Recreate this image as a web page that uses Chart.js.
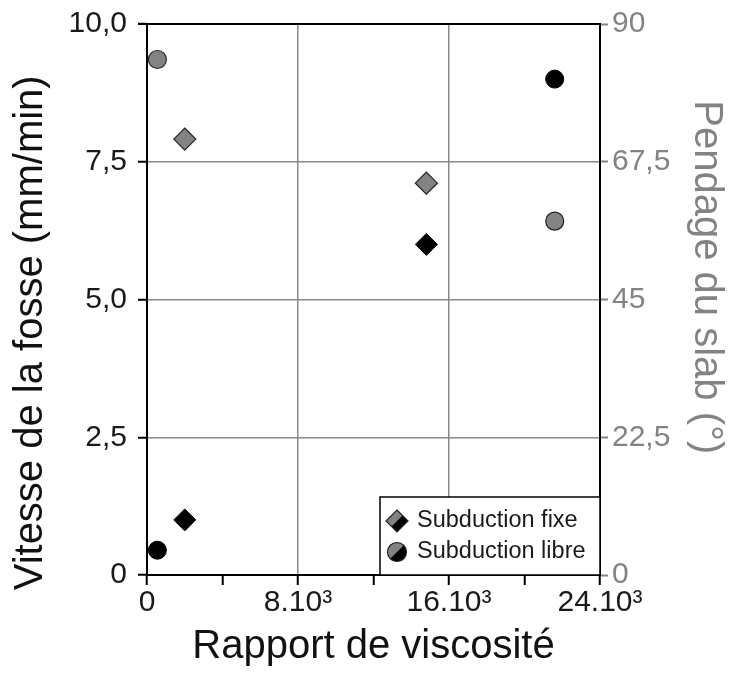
<!DOCTYPE html>
<html>
<head>
<meta charset="utf-8">
<script src="https://cdn.jsdelivr.net/npm/chart.js@4/dist/chart.umd.min.js"></script>
<style>
  html, body { margin: 0; padding: 0; background: #fff; }
  #wrap { width: 734px; height: 686px; }
</style>
</head>
<body>
<div id="wrap"><canvas id="myChart" width="734" height="686"></canvas></div>
<script>
// data
const viscositeFixe = [2000, 14800];
const viscositeLibre = [550, 21600];
const vitesseFixe = [1.0, 6.0];     // mm/min, left axis
const vitesseLibre = [0.45, 9.0];
const pendageFixe = [71.2, 64.0];   // degrees, right axis
const pendageLibre = [84.2, 57.8];

const xTicks = [0, 8000, 16000, 24000];
const xTickLabels = ['0', '8.10³', '16.10³', '24.10³'];
const leftTickLabels = { 0: '0', 2.5: '2,5', 5: '5,0', 7.5: '7,5', 10: '10,0' };
const rightTickLabels = { 0: '0', 22.5: '22,5', 45: '45', 67.5: '67,5', 90: '90' };

const GREY = '#838383';
const FONT = "'Liberation Sans', Arial, sans-serif";

function pts(xs, ys) {
    return xs.map((x, i) => ({ x: x, y: ys[i] }));
}

// split marker for the legend: grey upper-left, black lower-right
function splitMarker(kind) {
    const c = document.createElement('canvas');
    c.width = 26; c.height = 26;
    const g = c.getContext('2d');
    const shape = () => {
        g.beginPath();
        if (kind === 'circle') {
            g.arc(13, 13, 9.5, 0, Math.PI * 2);
        } else {
            g.moveTo(13, 2); g.lineTo(24, 13); g.lineTo(13, 24); g.lineTo(2, 13); g.closePath();
        }
    };
    shape();
    g.save();
    g.clip();
    g.fillStyle = '#000';
    g.fillRect(0, 0, 26, 26);
    g.beginPath();
    g.moveTo(0, 0); g.lineTo(26, 0); g.lineTo(0, 26); g.closePath();
    g.fillStyle = GREY;
    g.fill();
    g.restore();
    shape();
    g.lineWidth = 1.2;
    g.strokeStyle = '#222';
    g.stroke();
    return c;
}

const legendItems = [
    { marker: splitMarker('diamond'), text: 'Subduction fixe' },
    { marker: splitMarker('circle'), text: 'Subduction libre' },
];

const insideLegend = {
    id: 'insideLegend',
    afterDatasetsDraw(chart) {
        const { ctx, chartArea } = chart;
        const w = 220, h = 78;
        const x0 = chartArea.right - w, y0 = chartArea.bottom - h;
        ctx.save();
        ctx.fillStyle = '#fff';
        ctx.fillRect(x0, y0, w, h);
        ctx.strokeStyle = '#000';
        ctx.lineWidth = 1.5;
        ctx.strokeRect(x0, y0, w, h);
        ctx.font = '23.5px ' + FONT;
        ctx.fillStyle = '#1a1a1a';
        ctx.textBaseline = 'middle';
        legendItems.forEach((it, i) => {
            const cy = y0 + 24 + i * 31;
            ctx.drawImage(it.marker, x0 + 4, cy - 13);
            ctx.fillText(it.text, x0 + 37, cy);
        });
        ctx.restore();
    },
};

// black frame on top of the plot
const frame = {
    id: 'frame',
    beforeDatasetsDraw(chart) {
        const { ctx, chartArea } = chart;
        ctx.save();
        ctx.strokeStyle = '#000';
        ctx.lineWidth = 2;
        ctx.beginPath();
        ctx.moveTo(chartArea.left - 9, chartArea.top);
        ctx.lineTo(chartArea.right, chartArea.top);
        ctx.stroke();
        ctx.restore();
    },
};

function noPad(s) {
    s.paddingTop = 0;
    s.paddingBottom = 0;
    s.paddingLeft = 0;
    s.paddingRight = 0;
}

const ctx = document.getElementById('myChart').getContext('2d');
const chart = new Chart(ctx, {
    type: 'scatter',
    data: {
        datasets: [
            {
                label: 'Pendage fixe',
                data: pts(viscositeFixe, pendageFixe),
                yAxisID: 'y2',
                pointStyle: 'rectRot',
                pointRadius: 11,
                backgroundColor: GREY,
                borderColor: '#222',
                borderWidth: 1.2,
            },
            {
                label: 'Pendage libre',
                data: pts(viscositeLibre, pendageLibre),
                yAxisID: 'y2',
                pointStyle: 'circle',
                pointRadius: 9,
                backgroundColor: GREY,
                borderColor: '#222',
                borderWidth: 1.2,
            },
            {
                label: 'Vitesse fixe',
                data: pts(viscositeFixe, vitesseFixe),
                yAxisID: 'y',
                pointStyle: 'rectRot',
                pointRadius: 11,
                backgroundColor: '#000',
                borderColor: '#000',
                borderWidth: 1,
            },
            {
                label: 'Vitesse libre',
                data: pts(viscositeLibre, vitesseLibre),
                yAxisID: 'y',
                pointStyle: 'circle',
                pointRadius: 9,
                backgroundColor: '#000',
                borderColor: '#000',
                borderWidth: 1,
            },
        ],
    },
    options: {
        responsive: false,
        animation: false,
        layout: { padding: { top: 24, left: 0, right: 0, bottom: 0 } },
        plugins: {
            legend: { display: false },
            tooltip: { enabled: false },
        },
        scales: {
            x: {
                type: 'linear',
                min: 0,
                max: 24000,
                afterFit: (s) => { s.height = 111; noPad(s); },
                afterBuildTicks: (s) => {
                    s.ticks = [0, 4000, 8000, 12000, 16000, 20000, 24000].map(v => ({ value: v }));
                },
                ticks: {
                    font: { family: FONT, size: 30 },
                    color: '#1a1a1a',
                    padding: 0,
                    maxRotation: 0,
                    autoSkip: false,
                    callback: (v) => {
                        const i = xTicks.indexOf(v);
                        return i >= 0 ? xTickLabels[i] : '';
                    },
                },
                grid: {
                    color: (c) => (c.tick && (c.tick.value === 8000 || c.tick.value === 16000)) ? '#8a8a8a' : 'rgba(0,0,0,0)',
                    tickColor: '#000',
                    tickLength: 10,
                    lineWidth: 1.5,
                    tickWidth: 2,
                },
                border: { color: '#000', width: 2 },
                title: {
                    display: true,
                    text: 'Rapport de viscosité',
                    font: { family: FONT, size: 40 },
                    color: '#111',
                    padding: { top: 0, bottom: 15 },
                },
            },
            y: {
                position: 'left',
                min: 0,
                max: 10,
                afterFit: (s) => { s.width = 147; noPad(s); },
                ticks: {
                    stepSize: 2.5,
                    font: { family: FONT, size: 30 },
                    color: '#1a1a1a',
                    padding: 11,
                    callback: (v) => leftTickLabels[v] ?? '',
                },
                grid: {
                    color: (c) => (c.tick && c.tick.value > 0 && c.tick.value < 10) ? '#8a8a8a' : 'rgba(0,0,0,0)',
                    tickColor: '#000',
                    tickLength: 9,
                    lineWidth: 1.5,
                    tickWidth: 2,
                },
                border: { color: '#000', width: 2 },
                title: {
                    display: true,
                    // trailing spaces push the text down a little, as in the original
                    text: 'Vitesse de la fosse (mm/min)      ',
                    font: { family: FONT, size: 40 },
                    color: '#111',
                    padding: { top: 7, bottom: 0 },
                },
            },
            y2: {
                position: 'right',
                min: 0,
                max: 90,
                afterFit: (s) => { s.width = 134; noPad(s); },
                ticks: {
                    stepSize: 22.5,
                    font: { family: FONT, size: 30 },
                    color: GREY,
                    padding: 4,
                    callback: (v) => rightTickLabels[v] ?? '',
                },
                grid: {
                    drawOnChartArea: false,
                    tickColor: GREY,
                    tickLength: 8,
                    tickWidth: 2,
                },
                border: { color: '#000', width: 2 },
                title: {
                    display: true,
                    text: 'Pendage du slab (°)    ',
                    font: { family: FONT, size: 40 },
                    color: GREY,
                    padding: { top: 4, bottom: 0 },
                },
            },
        },
    },
    plugins: [frame, insideLegend],
});
</script>
</body>
</html>
